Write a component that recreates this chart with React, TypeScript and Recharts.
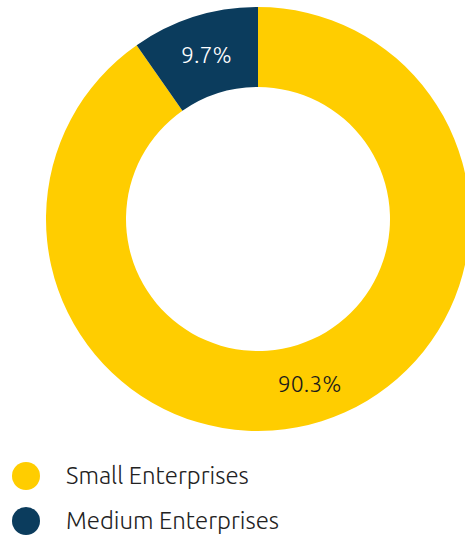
import React from 'react';
import { PieChart, Pie, Cell, Legend } from 'recharts';

const categories = ['Small Enterprises', 'Medium Enterprises'];
const shares = [90.3, 9.7];
const colors = ['#FFCD00', '#0B3C5D'];
const labelColors = ['#1a1a1a', '#ffffff'];

const data = categories.map((name, i) => ({ name, value: shares[i] }));

const FONT = "Ubuntu, 'Open Sans', Lato, sans-serif";
const RAD = Math.PI / 180;

const renderLabel = (props: any) => {
  const { cx, cy, midAngle, innerRadius, outerRadius, index } = props;
  const r = (innerRadius + outerRadius) / 2;
  const x = cx + r * Math.cos(-midAngle * RAD);
  const y = cy + r * Math.sin(-midAngle * RAD);
  return (
    <text
      x={x}
      y={y}
      fill={labelColors[index]}
      textAnchor="middle"
      dominantBaseline="central"
      fontFamily={FONT}
      fontSize={23}
      fontWeight={300}
    >
      {`${shares[index]}%`}
    </text>
  );
};

const renderLegend = () => (
  <div style={{ fontFamily: FONT }}>
    {categories.map((name, i) => (
      <div key={name} style={{ display: 'flex', alignItems: 'center', height: 45 }}>
        <svg width={28} height={28} style={{ marginLeft: 12 }}>
          <circle cx={14} cy={14} r={14} fill={colors[i]} />
        </svg>
        <span style={{ marginLeft: 26, fontSize: 24, fontWeight: 300, color: '#222' }}>{name}</span>
      </div>
    ))}
  </div>
);

export default function App() {
  return (
    <div style={{ position: 'absolute', left: 0, top: 0, width: 465, height: 538, background: '#fff' }}>
      <PieChart width={465} height={538} margin={{ top: 0, right: 0, bottom: 0, left: 0 }}>
        <Pie
          data={data}
          dataKey="value"
          nameKey="name"
          cx={258}
          cy={219}
          innerRadius={132}
          outerRadius={212}
          startAngle={90}
          endAngle={-270}
          stroke="none"
          label={renderLabel}
          labelLine={false}
          isAnimationActive={false}
        >
          {data.map((d, i) => (
            <Cell key={d.name} fill={colors[i]} />
          ))}
        </Pie>
        <Legend
          content={renderLegend}
          layout="vertical"
          wrapperStyle={{ position: 'absolute', left: 0, top: 453, width: 465 }}
        />
      </PieChart>
    </div>
  );
}
